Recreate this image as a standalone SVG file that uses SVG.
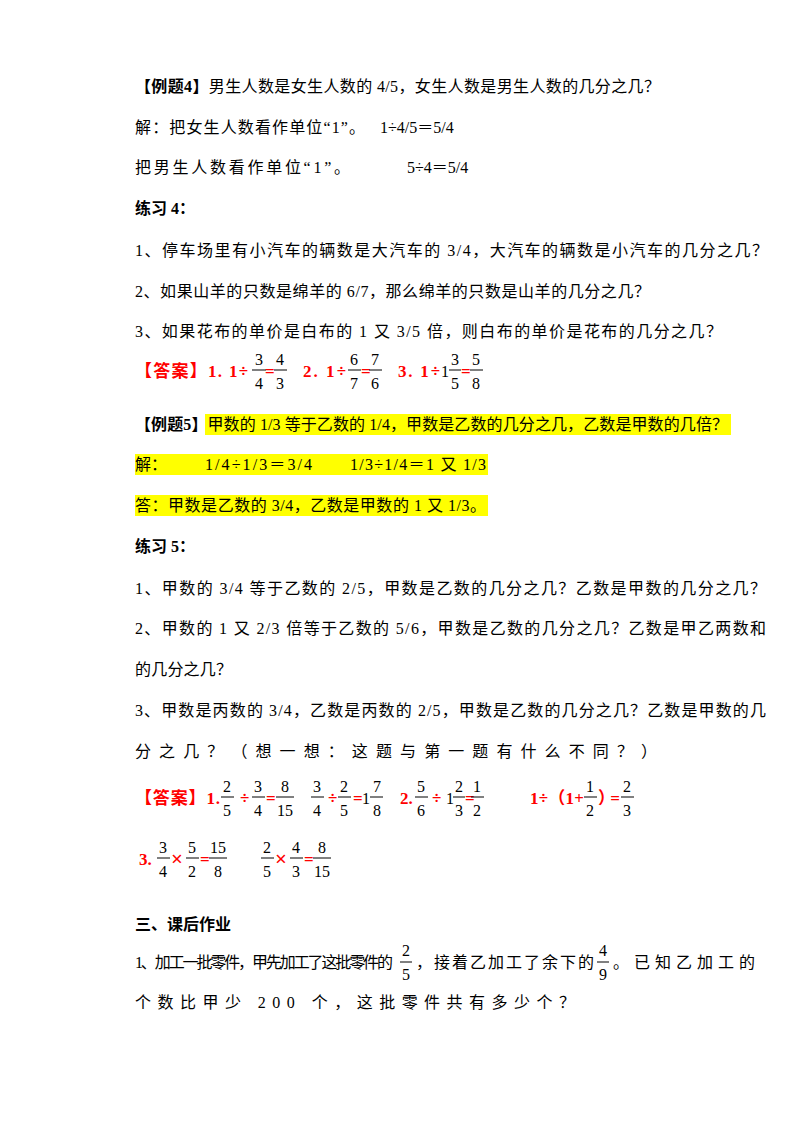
<svg xmlns="http://www.w3.org/2000/svg" width="800" height="1132" viewBox="0 0 800 1132">
<style>
text{font-family:"Liberation Serif","Noto Sans CJK SC",serif;font-size:16px;fill:#000}
.b{font-weight:bold}
.r{fill:#ff0000;font-weight:bold;font-size:17px}
.f{font-size:16px;text-anchor:middle}
.bar{stroke:#000;stroke-width:1}
</style>
<rect width="800" height="1132" fill="#fff"/>
<g id="text">
<text x="135" y="92" textLength="525" lengthAdjust="spacing"><tspan class="b">【例题4】</tspan>男生人数是女生人数的 4/5，女生人数是男生人数的几分之几？</text>
<text x="135" y="133" textLength="230" lengthAdjust="spacing">解：把女生人数看作单位“1”。</text>
<text x="380" y="133">1÷4/5＝5/4</text>
<text x="135" y="173" textLength="215" lengthAdjust="spacing">把男生人数看作单位“1”。</text>
<text x="407" y="173">5÷4＝5/4</text>
<text x="135" y="214" class="b">练习 4：</text>
<text x="135" y="256" textLength="633" lengthAdjust="spacing">1、停车场里有小汽车的辆数是大汽车的 3/4，大汽车的辆数是小汽车的几分之几？</text>
<text x="135" y="297" textLength="515" lengthAdjust="spacing">2、如果山羊的只数是绵羊的 6/7，那么绵羊的只数是山羊的几分之几？</text>
<text x="135" y="337" textLength="587" lengthAdjust="spacing">3、如果花布的单价是白布的 1 又 3/5 倍，则白布的单价是花布的几分之几？</text>
</g>
<g id="ans4">
<text x="135" y="377" class="r" textLength="113" lengthAdjust="spacing">【答案】1. 1÷</text>
<text x="259" y="365" class="f">3</text><line class="bar" x1="252" y1="370" x2="266" y2="370"/><text x="259" y="389" class="f">4</text>
<text x="265" y="377" class="r">=</text>
<text x="280" y="365" class="f">4</text><line class="bar" x1="274" y1="370" x2="287" y2="370"/><text x="280" y="389" class="f">3</text>
<text x="303" y="377" class="r" textLength="43" lengthAdjust="spacing">2. 1÷</text>
<text x="354" y="365" class="f">6</text><line class="bar" x1="348" y1="370" x2="361" y2="370"/><text x="354" y="389" class="f">7</text>
<text x="361" y="377" class="r">=</text>
<text x="375" y="365" class="f">7</text><line class="bar" x1="369" y1="370" x2="382" y2="370"/><text x="375" y="389" class="f">6</text>
<text x="398" y="377" class="r" textLength="42" lengthAdjust="spacing">3. 1÷</text>
<text x="441" y="377">1</text>
<text x="455" y="365" class="f">3</text><line class="bar" x1="449" y1="370" x2="461" y2="370"/><text x="455" y="389" class="f">5</text>
<text x="461" y="377" class="r">=</text>
<text x="476" y="365" class="f">5</text><line class="bar" x1="470" y1="370" x2="483" y2="370"/><text x="476" y="389" class="f">8</text>
</g>
<g id="ex5">
<rect x="205" y="414" width="526" height="21" fill="#ffff00"/>
<rect x="135" y="454" width="353" height="21" fill="#ffff00"/>
<rect x="135" y="495" width="353" height="21" fill="#ffff00"/>
<text x="135" y="430" textLength="593" lengthAdjust="spacing"><tspan class="b">【例题5】</tspan>甲数的 1/3 等于乙数的 1/4，甲数是乙数的几分之几，乙数是甲数的几倍？</text>
<text x="135" y="470">解：</text>
<text x="205" y="470" textLength="107" lengthAdjust="spacing">1/4÷1/3＝3/4</text>
<text x="350" y="470" textLength="136" lengthAdjust="spacing">1/3÷1/4＝1 又 1/3</text>
<text x="135" y="511" textLength="351" lengthAdjust="spacing">答：甲数是乙数的 3/4，乙数是甲数的 1 又 1/3。</text>
</g>
<g id="text5">
<text x="135" y="552" class="b">练习 5：</text>
<text x="135" y="594" textLength="631" lengthAdjust="spacing">1、甲数的 3/4 等于乙数的 2/5，甲数是乙数的几分之几？乙数是甲数的几分之几？</text>
<text x="135" y="634" textLength="631" lengthAdjust="spacing">2、甲数的 1 又 2/3 倍等于乙数的 5/6，甲数是乙数的几分之几？乙数是甲乙两数和</text>
<text x="135" y="675" textLength="97" lengthAdjust="spacing">的几分之几？</text>
<text x="135" y="716" textLength="631" lengthAdjust="spacing">3、甲数是丙数的 3/4，乙数是丙数的 2/5，甲数是乙数的几分之几？乙数是甲数的几</text>
<text x="135" y="757" textLength="522" lengthAdjust="spacing">分之几？（想一想：这题与第一题有什么不同？）</text>
</g>
<g id="ans5">
<text x="135" y="804" class="r" textLength="85" lengthAdjust="spacing">【答案】1.</text>
<text x="227" y="792" class="f">2</text><line class="bar" x1="221" y1="797" x2="234" y2="797"/><text x="227" y="816" class="f">5</text>
<text x="240" y="804" class="r">÷</text>
<text x="258" y="792" class="f">3</text><line class="bar" x1="252" y1="797" x2="265" y2="797"/><text x="258" y="816" class="f">4</text>
<text x="266" y="804" class="r">=</text>
<text x="285" y="792" class="f">8</text><line class="bar" x1="276" y1="797" x2="294" y2="797"/><text x="285" y="816" class="f">15</text>
<text x="317" y="792" class="f">3</text><line class="bar" x1="311" y1="797" x2="324" y2="797"/><text x="317" y="816" class="f">4</text>
<text x="328" y="804" class="r">÷</text>
<text x="344" y="792" class="f">2</text><line class="bar" x1="338" y1="797" x2="351" y2="797"/><text x="344" y="816" class="f">5</text>
<text x="353" y="804" class="r">=</text>
<text x="362" y="804">1</text>
<text x="377" y="792" class="f">7</text><line class="bar" x1="370" y1="797" x2="383" y2="797"/><text x="377" y="816" class="f">8</text>
<text x="400" y="804" class="r">2.</text>
<text x="421" y="792" class="f">5</text><line class="bar" x1="415" y1="797" x2="428" y2="797"/><text x="421" y="816" class="f">6</text>
<text x="432" y="804" class="r">÷</text>
<text x="446" y="804">1</text>
<text x="459" y="792" class="f">2</text><line class="bar" x1="453" y1="797" x2="465" y2="797"/><text x="459" y="816" class="f">3</text>
<text x="465" y="804" class="r">=</text>
<text x="477" y="792" class="f">1</text><line class="bar" x1="471" y1="797" x2="484" y2="797"/><text x="477" y="816" class="f">2</text>
<text x="530" y="804" class="r" textLength="54" lengthAdjust="spacing">1÷（1+</text>
<text x="590" y="792" class="f">1</text><line class="bar" x1="584" y1="797" x2="597" y2="797"/><text x="590" y="816" class="f">2</text>
<text x="598" y="804" class="r" textLength="22" lengthAdjust="spacing">）=</text>
<text x="627" y="792" class="f">2</text><line class="bar" x1="621" y1="797" x2="634" y2="797"/><text x="627" y="816" class="f">3</text>
<text x="139" y="865" class="r">3.</text>
<text x="163" y="853" class="f">3</text><line class="bar" x1="157" y1="858" x2="170" y2="858"/><text x="163" y="877" class="f">4</text>
<text x="171" y="866" class="r" style="font-size:21px">×</text>
<text x="192" y="853" class="f">5</text><line class="bar" x1="186" y1="858" x2="199" y2="858"/><text x="192" y="877" class="f">2</text>
<text x="200" y="865" class="r">=</text>
<text x="218" y="853" class="f">15</text><line class="bar" x1="209" y1="858" x2="227" y2="858"/><text x="218" y="877" class="f">8</text>
<text x="267" y="853" class="f">2</text><line class="bar" x1="261" y1="858" x2="274" y2="858"/><text x="267" y="877" class="f">5</text>
<text x="275" y="866" class="r" style="font-size:21px">×</text>
<text x="296" y="853" class="f">4</text><line class="bar" x1="290" y1="858" x2="303" y2="858"/><text x="296" y="877" class="f">3</text>
<text x="304" y="865" class="r">=</text>
<text x="322" y="853" class="f">8</text><line class="bar" x1="313" y1="858" x2="331" y2="858"/><text x="322" y="877" class="f">15</text>
</g>
<g id="hw">
<text x="135" y="930" class="b">三、课后作业</text>
<text x="135" y="968" textLength="258" lengthAdjust="spacing">1、加工一批零件，甲先加工了这批零件的</text>
<text x="406" y="956" class="f">2</text><line class="bar" x1="400" y1="962" x2="412" y2="962"/><text x="406" y="980" class="f">5</text>
<text x="416" y="968" textLength="178" lengthAdjust="spacing">，接着乙加工了余下的</text>
<text x="603" y="956" class="f">4</text><line class="bar" x1="597" y1="962" x2="609" y2="962"/><text x="603" y="980" class="f">9</text>
<text x="613" y="968" textLength="142" lengthAdjust="spacing">。已知乙加工的</text>
<text x="135" y="1008" textLength="440" lengthAdjust="spacing">个数比甲少 200 个，这批零件共有多少个？</text>
</g>
</svg>
